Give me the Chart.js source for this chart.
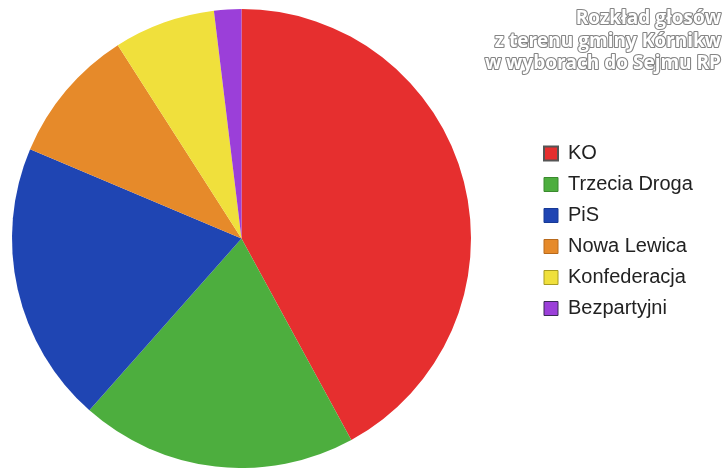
<!DOCTYPE html>
<html>
<head>
<meta charset="utf-8">
<script src="https://cdn.jsdelivr.net/npm/chart.js@4"></script>
<style>
  body { margin: 0; background: #fff; overflow: hidden; }
  #box { width: 774px; height: 468px; position: relative; margin-left: -50px; }
</style>
</head>
<body>
<div id="box"><canvas id="wykres"></canvas></div>
<script>
// dane (procent glosow)
const partie = ['KO', 'Trzecia Droga', 'PiS', 'Nowa Lewica', 'Konfederacja', 'Bezpartyjni'];
const glosy = [42.06, 19.47, 19.83, 9.58, 7.14, 1.92];
const kolory = ['#e62f2f', '#4dae3e', '#1f45b3', '#e68a2a', '#f0e03c', '#9b3fd9'];
const ramki = ['#555555', '#3a8a2e', '#173a96', '#b86a1c', '#a89c22', '#3a2a55'];
const tytul = ['Rozkład głosów', 'z terenu gminy Kórnikw', 'w wyborach do Sejmu RP'];

// tytul z obrysem w prawym gornym rogu (canvas przesuniety o 50px w lewo)
const tytulPlugin = {
  id: 'tytulObrys',
  afterDraw(chart) {
    const ctx = chart.ctx;
    ctx.save();
    ctx.font = 'bold 19px "Open Sans"';
    ctx.textAlign = 'right';
    ctx.textBaseline = 'alphabetic';
    ctx.lineJoin = 'round';
    ctx.lineWidth = 2.2;
    ctx.strokeStyle = '#858585';
    ctx.fillStyle = '#ffffff';
    tytul.forEach((t, i) => {
      const y = 24 + i * 22.5;
      ctx.strokeText(t, 771, y);
      ctx.fillText(t, 771, y);
    });
    ctx.restore();
  }
};

// legenda ma stala szerokosc, zeby kolo stalo po lewej
const legendaPlugin = {
  id: 'legendaSzer',
  afterInit(chart) {
    const lg = chart.legend;
    const fit = lg.fit.bind(lg);
    lg.fit = function () {
      fit();
      this.width = 191;
    };
  }
};

const ctx = document.getElementById('wykres').getContext('2d');
const myChart = new Chart(ctx, {
  type: 'pie',
  data: {
    labels: partie,
    datasets: [{
      data: glosy,
      backgroundColor: kolory,
      borderWidth: 0
    }]
  },
  options: {
    responsive: true,
    maintainAspectRatio: false,
    animation: false,
    layout: { padding: { left: 0, top: 9, right: 0, bottom: 0 } },
    plugins: {
      tooltip: { enabled: false },
      legend: {
        position: 'right',
        align: 'start',
        title: { display: true, text: ' ', font: { size: 10 }, padding: { top: 111.5, bottom: 0 } },
        labels: {
          font: { family: '"Liberation Sans", Arial, sans-serif', size: 20 },
          color: '#222',
          boxWidth: 14,
          boxHeight: 14,
          padding: 11,
          generateLabels(chart) {
            const items = Chart.overrides.pie.plugins.legend.labels.generateLabels(chart);
            items.forEach((it, i) => {
              it.strokeStyle = ramki[i];
              it.lineWidth = i === 0 ? 2 : 1;
            });
            return items;
          }
        }
      }
    }
  },
  plugins: [tytulPlugin, legendaPlugin]
});
</script>
</body>
</html>
